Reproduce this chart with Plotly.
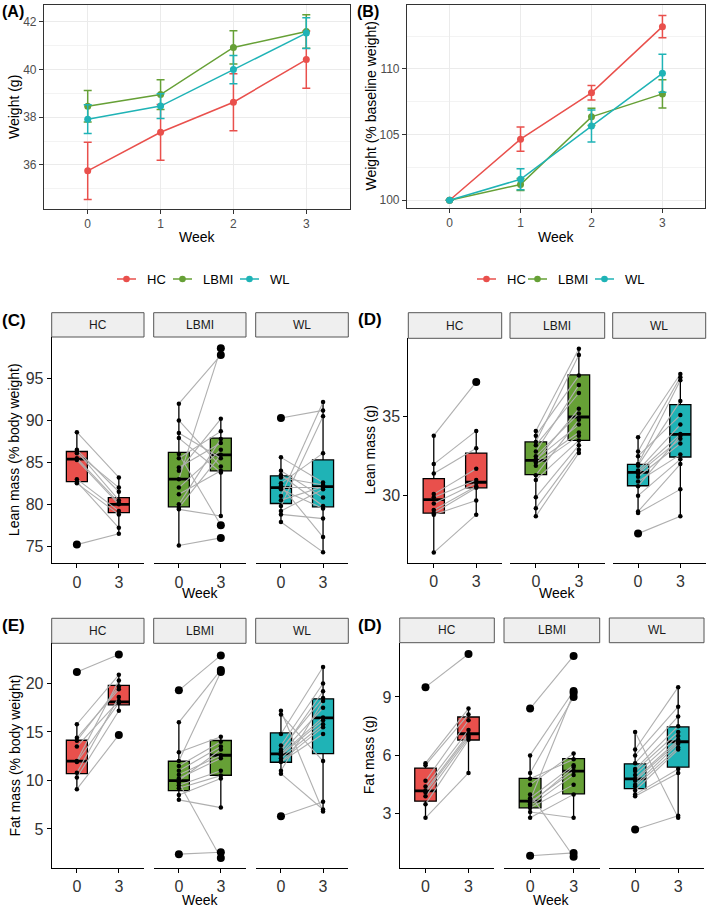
import plotly.graph_objects as go

W, H = 709, 908
FONT = "Liberation Sans, Arial, sans-serif"

GROUPS = ["HC", "LBMI", "WL"]
COLORS = {"HC": "#E9504C", "LBMI": "#66A036", "WL": "#1FB3B6"}
WEEKS = [0, 1, 2, 3]
BOX_WEEKS = ["0", "3"]

# ---- Panel A: weight (g), mean and error
A_MEAN = {"HC": [35.75, 37.37, 38.63, 40.42],
          "LBMI": [38.46, 38.95, 40.93, 41.60],
          "WL": [37.92, 38.47, 40.00, 41.53]}
A_ERR = {"HC": [1.20, 1.17, 1.20, 1.20],
         "LBMI": [0.66, 0.62, 0.70, 0.70],
         "WL": [0.60, 0.52, 0.59, 0.65]}

# ---- Panel B: weight (% baseline)
B_MEAN = {"HC": [100.0, 104.65, 108.18, 113.22],
          "LBMI": [100.0, 101.20, 106.35, 108.10],
          "WL": [100.0, 101.60, 105.65, 109.67]}
B_ERR = {"HC": [0.0, 0.92, 0.55, 0.85],
         "LBMI": [0.0, 0.45, 0.65, 1.08],
         "WL": [0.0, 0.80, 1.22, 1.45]}

# ---- Panel C: lean mass (% body weight), week 0 / week 3 (paired by index)
C_W0 = {"HC": [88.6, 86.5, 86.3, 86.1, 85.5, 85.3, 83.0, 82.7, 82.5, 75.2],
        "LBMI": [92.0, 90.0, 88.5, 87.9, 86.0, 85.5, 84.4, 84.0, 83.0, 82.0, 81.2, 80.0, 79.6, 79.4, 75.1],
        "WL": [90.3, 85.6, 84.0, 83.5, 83.2, 82.5, 82.2, 82.0, 81.8, 81.0, 80.5, 79.8, 79.2, 78.8, 77.9]}
C_W3 = {"HC": [83.2, 81.5, 80.5, 82.0, 80.2, 80.0, 79.2, 77.2, 78.8, 76.5],
        "LBMI": [97.8, 84.5, 85.5, 83.8, 77.5, 88.7, 87.3, 90.2, 98.6, 86.5, 84.0, 87.8, 85.9, 78.6, 76.0],
        "WL": [91.2, 82.6, 80.8, 79.8, 82.3, 86.1, 76.1, 82.0, 79.5, 92.2, 82.1, 90.5, 81.8, 78.3, 74.3]}
C_Q1 = {"HC": [82.7, 79.0], "LBMI": [79.7, 84.0], "WL": [80.1, 79.7]}
C_MED = {"HC": [85.4, 80.0], "LBMI": [83.0, 85.9], "WL": [82.0, 82.1]}
C_Q3 = {"HC": [86.3, 80.8], "LBMI": [86.2, 87.9], "WL": [83.4, 85.3]}
C_LO = {"HC": [82.5, 76.5], "LBMI": [75.1, 78.6], "WL": [77.9, 74.3]}
C_HI = {"HC": [88.6, 83.2], "LBMI": [92.0, 90.2], "WL": [85.6, 92.2]}

# ---- Panel D: lean mass (g)
D_W0 = {"HC": [33.8, 32.0, 31.4, 30.1, 29.9, 29.5, 29.1, 28.9, 28.8, 26.4],
        "LBMI": [34.1, 33.8, 33.4, 33.2, 32.8, 32.5, 32.3, 32.2, 32.1, 31.9, 31.3, 31.0, 29.9, 29.2, 28.7],
        "WL": [33.7, 32.8, 32.5, 32.0, 31.9, 31.6, 31.5, 31.4, 31.2, 30.9, 30.6, 30.0, 29.0, 28.9, 27.6]}
D_W3 = {"HC": [37.2, 34.1, 33.0, 31.7, 31.0, 30.8, 30.6, 30.5, 29.7, 28.8],
        "LBMI": [39.3, 37.6, 38.9, 36.5, 37.0, 35.2, 34.5, 35.5, 34.0, 33.8, 34.8, 33.5, 33.2, 32.9, 32.7],
        "WL": [37.7, 37.5, 35.1, 37.3, 36.0, 34.5, 33.9, 33.6, 33.3, 32.6, 33.8, 32.3, 32.0, 30.4, 28.7]}
D_Q1 = {"HC": [28.9, 30.5], "LBMI": [31.33, 33.5], "WL": [30.63, 32.45]}
D_MED = {"HC": [29.75, 30.85], "LBMI": [32.24, 34.98], "WL": [31.48, 33.88]}
D_Q3 = {"HC": [31.08, 32.7], "LBMI": [33.4, 37.64], "WL": [31.98, 35.76]}
D_LO = {"HC": [26.4, 28.8], "LBMI": [28.7, 32.7], "WL": [28.9, 28.7]}
D_HI = {"HC": [33.8, 34.1], "LBMI": [34.1, 39.3], "WL": [33.7, 37.7]}

# ---- Panel E: fat mass (% body weight)
E_W0 = {"HC": [21.2, 15.8, 14.4, 14.1, 13.5, 12.0, 11.9, 10.8, 10.3, 9.1],
        "LBMI": [19.3, 16.0, 12.9, 12.0, 11.5, 11.0, 10.6, 10.2, 10.0, 9.8, 9.5, 9.2, 8.5, 8.0, 2.4],
        "WL": [17.2, 16.8, 14.8, 13.6, 13.2, 13.0, 12.8, 12.7, 12.6, 12.3, 12.0, 11.9, 11.0, 10.7, 6.3]}
E_W3 = {"HC": [23.0, 20.9, 19.4, 19.7, 18.2, 20.3, 18.0, 18.6, 17.2, 14.7],
        "LBMI": [22.9, 21.4, 14.5, 21.2, 14.0, 13.5, 12.6, 12.3, 13.2, 2.0, 11.0, 10.5, 10.2, 7.2, 2.6],
        "WL": [6.8, 12.0, 21.7, 20.0, 18.5, 19.2, 17.5, 16.5, 16.2, 15.8, 15.5, 14.8, 18.2, 7.0, 7.8]}
E_Q1 = {"HC": [10.7, 17.8], "LBMI": [8.96, 10.54], "WL": [11.88, 12.77]}
E_MED = {"HC": [12.0, 18.1], "LBMI": [9.99, 12.6], "WL": [12.74, 16.46]}
E_Q3 = {"HC": [14.15, 19.8], "LBMI": [11.98, 14.12], "WL": [14.9, 18.42]}
E_LO = {"HC": [9.1, 17.2], "LBMI": [8.0, 7.2], "WL": [10.7, 6.8]}
E_HI = {"HC": [15.8, 20.9], "LBMI": [16.0, 14.5], "WL": [17.2, 21.7]}

# ---- Panel F (labelled "(D)"): fat mass (g)
F_W0 = {"HC": [9.5, 5.6, 5.5, 4.7, 4.4, 4.2, 4.1, 3.9, 3.5, 2.8],
        "LBMI": [8.4, 6.0, 5.1, 4.8, 4.5, 4.0, 3.8, 3.7, 3.6, 3.5, 3.4, 3.3, 3.1, 2.8, 0.85],
        "WL": [7.2, 6.3, 6.0, 5.6, 5.3, 5.2, 5.0, 4.8, 4.7, 4.5, 4.4, 4.2, 4.0, 3.9, 2.2]}
F_W3 = {"HC": [11.2, 8.4, 8.1, 7.8, 7.3, 7.1, 7.0, 6.9, 6.8, 5.1],
        "LBMI": [11.1, 9.3, 9.0, 5.8, 6.1, 0.8, 5.5, 9.2, 5.2, 5.4, 5.0, 4.5, 2.8, 4.0, 1.0],
        "WL": [2.8, 9.5, 8.5, 8.0, 7.5, 7.2, 7.0, 6.8, 6.7, 6.6, 6.4, 6.3, 5.3, 5.1, 2.9]}
F_Q1 = {"HC": [3.65, 6.79], "LBMI": [3.31, 4.03], "WL": [4.3, 5.4]}
F_MED = {"HC": [4.18, 7.11], "LBMI": [3.65, 5.19], "WL": [4.8, 6.7]}
F_Q3 = {"HC": [5.35, 7.97], "LBMI": [4.82, 5.83], "WL": [5.57, 7.46]}
F_LO = {"HC": [2.8, 5.1], "LBMI": [2.8, 2.8], "WL": [3.9, 2.8]}
F_HI = {"HC": [5.6, 8.4], "LBMI": [6.0, 6.1], "WL": [7.2, 9.5]}

# ------------------------------------------------------------------
fig = go.Figure()
layout = dict(width=W, height=H, autosize=False,
              margin=dict(l=0, r=0, t=0, b=0),
              paper_bgcolor="white", plot_bgcolor="white",
              showlegend=False, font=dict(family=FONT, color="black"))
shapes, annotations = [], []
counter = [0]


def px(x):
    return x / W


def py(y):
    return 1 - y / H


def new_axes(x0, x1, y0, y1, xcfg, ycfg):
    counter[0] += 1
    i = counter[0]
    sfx = "" if i == 1 else str(i)
    layout["xaxis" + sfx] = dict(domain=[px(x0), px(x1)], anchor="y" + sfx, **xcfg)
    layout["yaxis" + sfx] = dict(domain=[py(y1), py(y0)], anchor="x" + sfx, **ycfg)
    return "x" + sfx, "y" + sfx


def text(s, x, y, size, bold=False, angle=0, xanchor="center", color="black"):
    annotations.append(dict(text=("<b>%s</b>" % s) if bold else s, x=px(x), y=py(y),
                            xref="paper", yref="paper", showarrow=False, textangle=angle,
                            xanchor=xanchor, yanchor="middle",
                            font=dict(size=size, color=color, family=FONT)))


# ---------- line panels (A, B) ----------
def line_panel(x0, x1, y0, y1, yrange, dtick, minor, mean, err, ytitle, ytitle_x, label, label_x):
    grid = "#EBEBEB"
    xcfg = dict(range=[-0.6, 3.6], tickvals=WEEKS, ticktext=[str(w) for w in WEEKS],
                showgrid=True, gridcolor=grid, gridwidth=1.1, zeroline=False,
                showline=True, mirror=True, linecolor="#333333", linewidth=1.1,
                ticks="outside", ticklen=4, tickcolor="#333333", tickwidth=1,
                tickfont=dict(size=12, color="#4D4D4D"))
    ycfg = dict(range=yrange, tickmode="linear", tick0=0, dtick=dtick,
                showgrid=True, gridcolor=grid, gridwidth=1.1, zeroline=False,
                minor=dict(tickmode="linear", tick0=0, dtick=minor, showgrid=True,
                           gridcolor="#F3F3F3", gridwidth=0.7, ticks=""),
                showline=True, mirror=True, linecolor="#333333", linewidth=1.1,
                ticks="outside", ticklen=4, tickcolor="#333333", tickwidth=1,
                tickfont=dict(size=12, color="#4D4D4D"))
    xr, yr = new_axes(x0, x1, y0, y1, xcfg, ycfg)
    for g in GROUPS:
        fig.add_trace(go.Scatter(x=WEEKS, y=mean[g], mode="lines+markers", name=g,
                                 line=dict(color=COLORS[g], width=1.5),
                                 marker=dict(color=COLORS[g], size=7),
                                 error_y=dict(type="data", array=err[g], visible=True,
                                              color=COLORS[g], thickness=1.5, width=4),
                                 xaxis=xr, yaxis=yr, hoverinfo="skip"))
    text(ytitle, ytitle_x, (y0 + y1) / 2, 14, angle=-90)
    text("Week", (x0 + x1) / 2, 237, 14)
    text(label, label_x, 12, 16, bold=True, xanchor="left")


line_panel(44, 350, 5, 209, [34.15, 42.71], 2, 1, A_MEAN, A_ERR, "Weight (g)", 14, "(A)", 0)
line_panel(407, 705, 5, 208, [99.41, 114.87], 5, 2.5, B_MEAN, B_ERR,
           "Weight (% baseline weight)", 370, "(B)", 355)


# legends (manual keys, ggplot style)
def legend_row(sym_x, txt_x, y):
    for g, sx, tx in zip(GROUPS, sym_x, txt_x):
        shapes.append(dict(type="line", xref="paper", yref="paper", x0=px(sx), x1=px(sx + 19),
                           y0=py(y), y1=py(y), line=dict(color=COLORS[g], width=1.5)))
        cx = sx + 9.5
        shapes.append(dict(type="circle", xref="paper", yref="paper", x0=px(cx - 3.3), x1=px(cx + 3.3),
                           y0=py(y + 3.3), y1=py(y - 3.3), fillcolor=COLORS[g],
                           line=dict(color=COLORS[g], width=0)))
        text(g, tx, y, 13, xanchor="left")


legend_row([117, 173, 240], [145, 201, 268], 279)
legend_row([477, 528, 595], [505, 556, 623], 279)


# ---------- box panels ----------
def box_panel(label, label_xy, strip_y, plot_y, facets_x, yrange, ytick, ytitle, ytitle_x,
              w0, w3, q1, med, q3, lo, hi, week_y):
    for j, g in enumerate(GROUPS):
        fx0, fx1 = facets_x[j]
        xcfg = dict(range=[-0.6, 1.6], tickvals=[0, 1], ticktext=BOX_WEEKS, showgrid=False,
                    zeroline=False, showline=True, linecolor="black", linewidth=1.1,
                    ticks="outside", ticklen=4, tickcolor="black", tickwidth=1.1,
                    tickfont=dict(size=16, color="#333333"))
        if j == 0:
            ycfg = dict(range=yrange, tickvals=ytick, showgrid=False, zeroline=False,
                        showline=True, linecolor="black", linewidth=1.1,
                        ticks="outside", ticklen=4, tickcolor="black", tickwidth=1.1,
                        tickfont=dict(size=16, color="#333333"))
        else:
            ycfg = dict(range=yrange, showgrid=False, zeroline=False, showline=False,
                        showticklabels=False, ticks="")
        xr, yr = new_axes(fx0, fx1, plot_y[0], plot_y[1], xcfg, ycfg)
        pos = [0, 1]
        bw = 0.5
        fig.add_trace(go.Box(x=pos, q1=q1[g], median=med[g], q3=q3[g],
                             lowerfence=lo[g], upperfence=hi[g], width=bw, whiskerwidth=0,
                             fillcolor=COLORS[g], line=dict(color="black", width=1.3),
                             boxpoints=False, xaxis=xr, yaxis=yr, hoverinfo="skip"))
        # thick median bars
        mx, my = [], []
        for p, m in zip(pos, med[g]):
            mx += [p - bw / 2, p + bw / 2, None]
            my += [m, m, None]
        fig.add_trace(go.Scatter(x=mx, y=my, mode="lines", line=dict(color="black", width=2.8),
                                 xaxis=xr, yaxis=yr, hoverinfo="skip"))
        # paired grey lines
        lx, ly = [], []
        for a, b in zip(w0[g], w3[g]):
            lx += [0, 1, None]
            ly += [a, b, None]
        fig.add_trace(go.Scatter(x=lx, y=ly, mode="lines", line=dict(color="#AFAFAF", width=1.1),
                                 xaxis=xr, yaxis=yr, hoverinfo="skip"))
        # points (outliers drawn larger)
        xs, ys, ss = [], [], []
        for k, vals in enumerate([w0[g], w3[g]]):
            for v in vals:
                xs.append(pos[k])
                ys.append(v)
                out = v < lo[g][k] - 1e-9 or v > hi[g][k] + 1e-9
                ss.append(8 if out else 4.5)
        fig.add_trace(go.Scatter(x=xs, y=ys, mode="markers",
                                 marker=dict(color="black", size=ss, opacity=1, line=dict(width=0)),
                                 xaxis=xr, yaxis=yr, hoverinfo="skip"))
        # strip
        shapes.append(dict(type="rect", xref="paper", yref="paper", x0=px(fx0), x1=px(fx1),
                           y0=py(strip_y[1]), y1=py(strip_y[0]), fillcolor="#EFEFEF",
                           line=dict(color="#555555", width=1), layer="below"))
        text(g, (fx0 + fx1) / 2, (strip_y[0] + strip_y[1]) / 2, 12, color="#1A1A1A")
    text(ytitle, ytitle_x, (plot_y[0] + plot_y[1]) / 2, 14, angle=-90)
    text("Week", (facets_x[0][0] + facets_x[2][1]) / 2, week_y, 14)
    text(label, label_xy[0], label_xy[1], 17, bold=True, xanchor="left")


LEFT_FACETS = [(51.7, 144.0), (153.7, 246.0), (255.7, 348.3)]
D_FACETS = [(408.3, 501.7), (510.0, 604.7), (612.7, 705.7)]
F_FACETS = [(399.7, 494.3), (504.0, 599.7), (609.3, 704.0)]

box_panel("(C)", (0, 320), (312.7, 337.0), (337.0, 563.3), LEFT_FACETS, [72.97, 99.95],
          [75, 80, 85, 90, 95], "Lean mass (% body weight)", 14,
          C_W0, C_W3, C_Q1, C_MED, C_Q3, C_LO, C_HI, 593)
box_panel("(D)", (356, 319), (312.7, 338.3), (338.3, 562.7), D_FACETS, [25.76, 39.96],
          [30, 35], "Lean mass (g)", 370,
          D_W0, D_W3, D_Q1, D_MED, D_Q3, D_LO, D_HI, 593)
box_panel("(E)", (0, 625), (618.3, 643.3), (643.3, 867.7), LEFT_FACETS, [1.0, 24.15],
          [5, 10, 15, 20], "Fat mass (% body weight)", 14,
          E_W0, E_W3, E_Q1, E_MED, E_Q3, E_LO, E_HI, 900)
box_panel("(D)", (356, 625), (618.0, 642.7), (642.7, 867.7), F_FACETS, [0.24, 11.78],
          [3, 6, 9], "Fat mass (g)", 369,
          F_W0, F_W3, F_Q1, F_MED, F_Q3, F_LO, F_HI, 900)

layout["shapes"] = shapes
layout["annotations"] = annotations
fig.update_layout(**layout)
fig.write_html("out.html", config={"displayModeBar": False},
               post_script="document.body.style.margin='0px';document.body.style.padding='0px';"
                           "document.body.style.overflow='hidden';")
